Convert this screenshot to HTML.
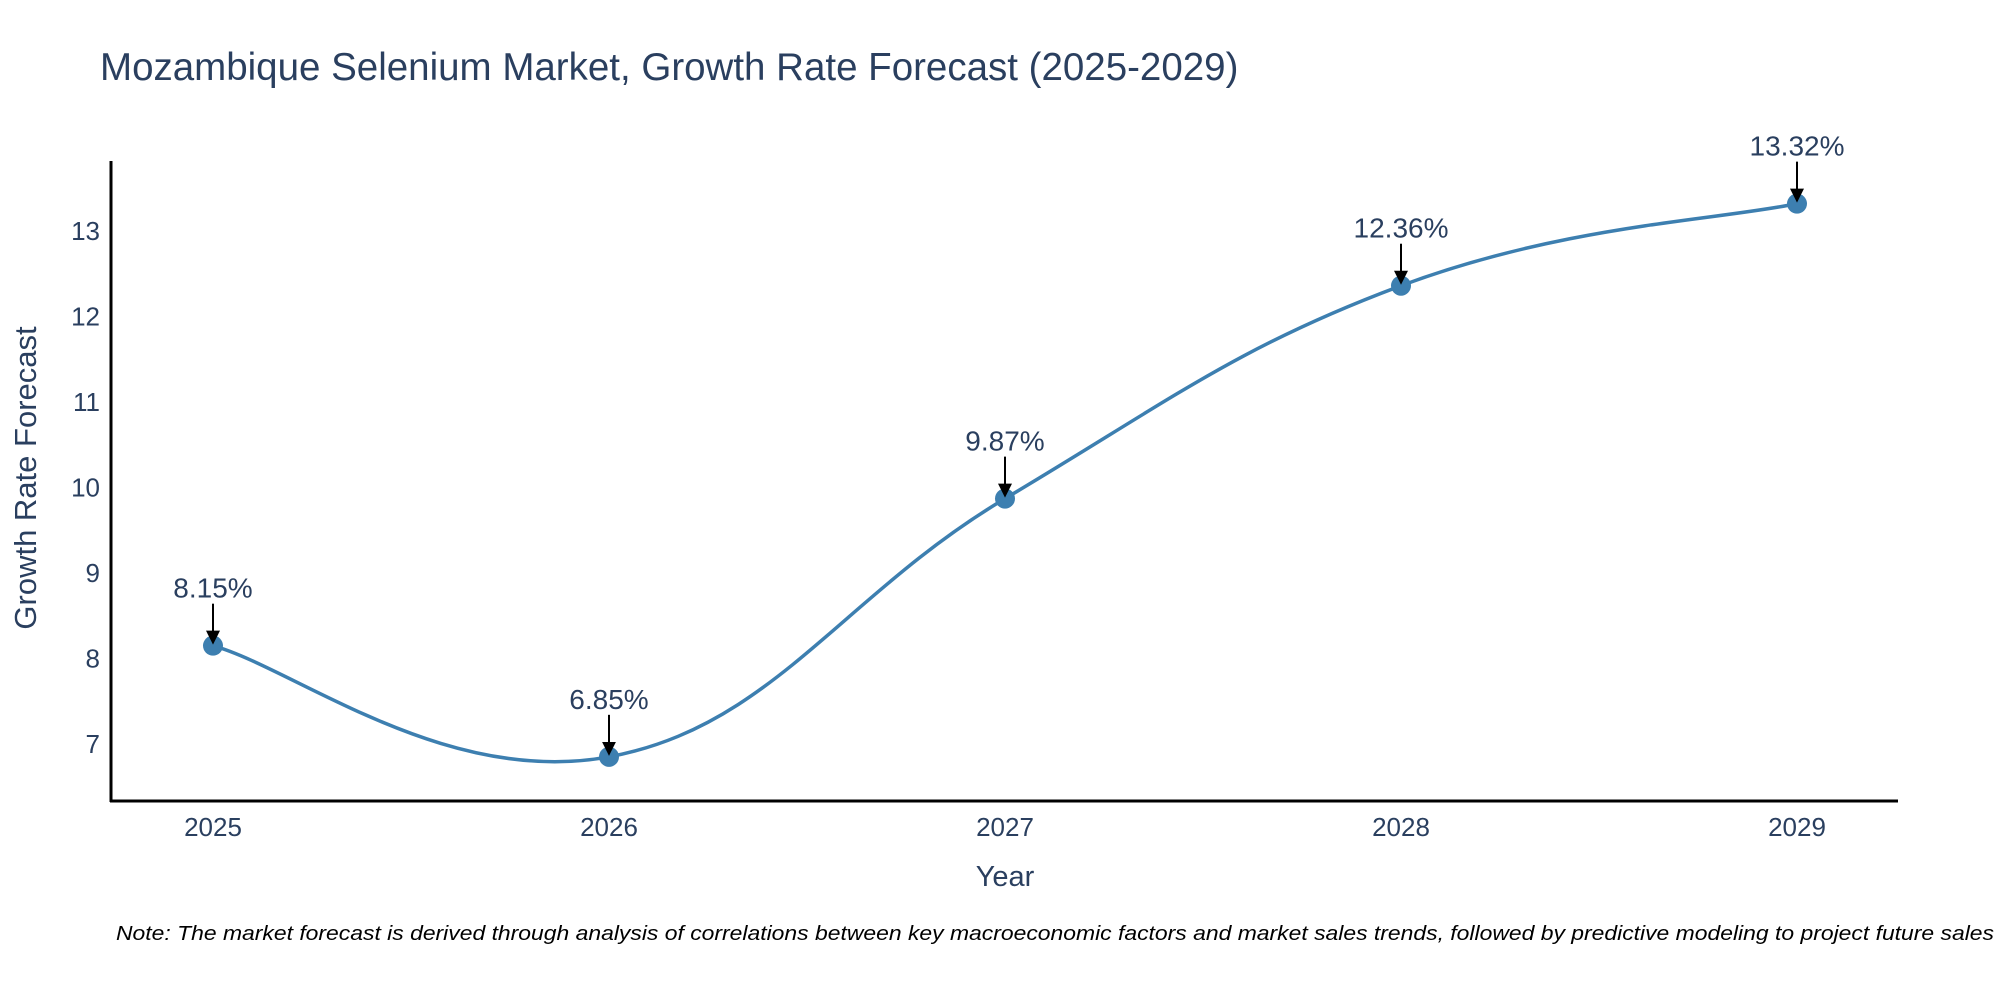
<!DOCTYPE html>
<html><head><meta charset="utf-8"><style>
html,body{margin:0;padding:0;background:#fff;}
svg{display:block;font-family:"Liberation Sans","DejaVu Sans",sans-serif;}
</style></head><body>
<svg id="chart" width="2000" height="1000" viewBox="0 0 2000 1000" xmlns="http://www.w3.org/2000/svg">
<text x="100" y="80" font-size="38.5" fill="#2a3f5f">Mozambique Selenium Market, Growth Rate Forecast (2025-2029)</text>
<g id="plot"></g>
<text x="1005" y="886" font-size="29" fill="#2a3f5f" text-anchor="middle">Year</text>
<text transform="translate(36,478) rotate(-90)" font-size="31" fill="#2a3f5f" text-anchor="middle">Growth Rate Forecast</text>
<text x="116" y="940" font-size="20" font-style="italic" fill="#000" textLength="1878" lengthAdjust="spacingAndGlyphs">Note: The market forecast is derived through analysis of correlations between key macroeconomic factors and market sales trends, followed by predictive modeling to project future sales</text>
</svg>
<script>
const years = [2025, 2026, 2027, 2028, 2029];
const growth = [8.15, 6.85, 9.87, 12.36, 13.32];
const labels = ["8.15%", "6.85%", "9.87%", "12.36%", "13.32%"];
const yTicks = [7, 8, 9, 10, 11, 12, 13];

const NS = "http://www.w3.org/2000/svg";
const g = document.getElementById('plot');
const xs = v => 213 + (v - 2025) * 396;
const ys = v => 744 - (v - 7) * 85.5;
function mk(tag, attrs, parent) {
  const e = document.createElementNS(NS, tag);
  for (const k in attrs) e.setAttribute(k, attrs[k]);
  (parent || g).appendChild(e);
  return e;
}
const defs = mk('defs', {});
const m = mk('marker', {id: 'arr', markerWidth: 16, markerHeight: 16, refX: 12, refY: 7, orient: 'auto', markerUnits: 'userSpaceOnUse'}, defs);
mk('path', {d: 'M0,0 L14,7 L0,14 Z', fill: '#000'}, m);

let e = mk('line', {x1: 111, y1: 161, x2: 111, y2: 802, stroke: '#000', 'stroke-width': 3});


e = mk('line', {x1: 110, y1: 801, x2: 1898, y2: 801, stroke: '#000', 'stroke-width': 3});



yTicks.forEach(t => {
  const el = mk('text', {x: 100, y: ys(t) + 9, 'font-size': 26, fill: '#2a3f5f', 'text-anchor': 'end'});
  el.textContent = t;
  
  
});
years.forEach(t => {
  const el = mk('text', {x: xs(t), y: 836, 'font-size': 26, fill: '#2a3f5f', 'text-anchor': 'middle'});
  el.textContent = t;
  
  
});

const pts = years.map((y, i) => [xs(y), ys(growth[i])]);
let d = 'M' + pts[0][0] + ',' + pts[0][1];
const s = 0.62;
for (let i = 0; i < pts.length - 1; i++) {
  const p0 = pts[Math.max(0, i - 1)], p1 = pts[i], p2 = pts[i + 1], p3 = pts[Math.min(pts.length - 1, i + 2)];
  const c1 = [p1[0] + (p2[0] - p0[0]) * s / 3, p1[1] + (p2[1] - p0[1]) * s / 3];
  const c2 = [p2[0] - (p3[0] - p1[0]) * s / 3, p2[1] - (p3[1] - p1[1]) * s / 3];
  d += ' C' + c1 + ' ' + c2 + ' ' + p2;
}
e = mk('path', {d: d, fill: 'none', stroke: '#3d7fb0', 'stroke-width': 3.5});



pts.forEach((p, i) => {
  const c = mk('circle', {cx: p[0], cy: p[1], r: 10, fill: '#3d7fb0'});
  
  
  const a = mk('line', {x1: p[0], y1: p[1] - 42, x2: p[0], y2: p[1] - 3, stroke: '#000', 'stroke-width': 2, 'marker-end': 'url(#arr)'});
  
  
  const t = mk('text', {x: p[0], y: p[1] - 48, 'font-size': 28, fill: '#2a3f5f', 'text-anchor': 'middle'});
  t.textContent = labels[i];
  
  
});
</script>
</body></html>
